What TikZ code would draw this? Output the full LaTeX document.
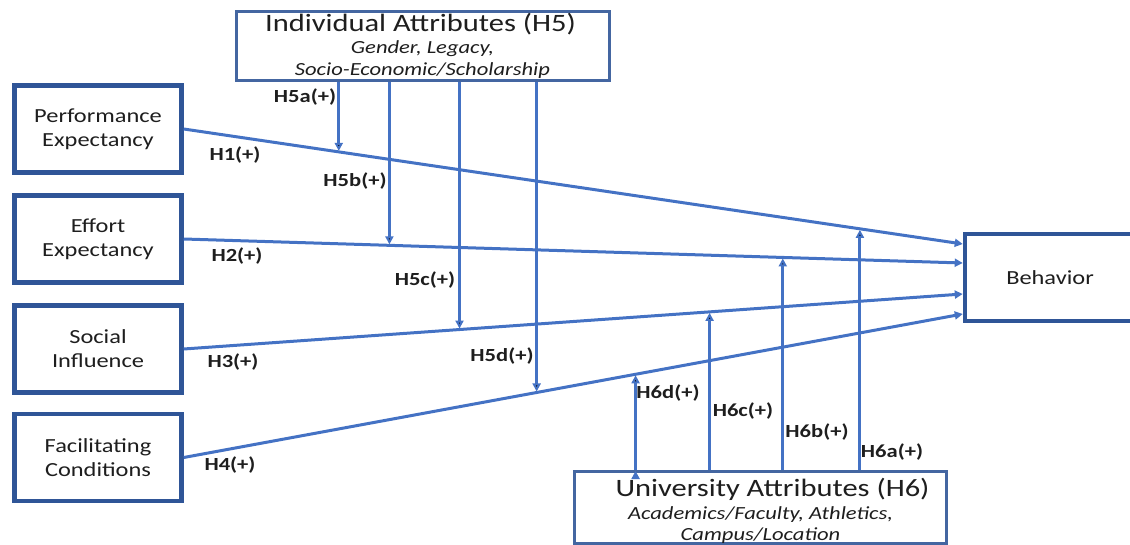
\documentclass[tikz,border=0pt]{standalone}
\usepackage{fontspec}
\setmainfont{Carlito}[FakeStretch=1.22]
\usetikzlibrary{arrows.meta}

\definecolor{boxblue}{RGB}{47,85,151}
\definecolor{lineblue}{RGB}{68,114,196}
\definecolor{txtgray}{RGB}{30,30,30}

\tikzset{
  construct/.style={draw=boxblue, line width=4.5pt, fill=white, minimum width=167pt,
    minimum height=87pt, align=center, text=txtgray, font=\fontsize{20}{24}\selectfont},
  attrbox/.style={draw=boxblue!90!white, line width=3pt, fill=white, align=center,
    text=txtgray, font=\fontsize{18.5}{22}\selectfont, inner sep=0pt},
  hyp/.style={text=txtgray, font=\bfseries\fontsize{18.5}{20}\selectfont},
  hline/.style={draw=lineblue, line width=3pt},
}

\begin{document}
\begin{tikzpicture}[x=1pt,y=1pt,>={Triangle[length=8pt,width=8pt]}]
\useasboundingbox (0,0) rectangle (1130,-545);

\node[construct] (pe) at (98,-129) {Performance\\Expectancy};
\node[construct] (ee) at (98,-239) {Effort\\Expectancy};
\node[construct] (si) at (98,-349) {Social\\Influence};
\node[construct] (fc) at (98,-457.5) {Facilitating\\Conditions};
\node[construct, minimum width=170pt] (beh) at (1050,-277.5) {Behavior};
\node[attrbox, minimum width=373pt, minimum height=69pt] (ia) at (422.5,-46)
  {\hspace*{-4pt}{\fontsize{25}{24}\selectfont Individual Attributes (H5)}\\[0pt]
   \textit{Gender, Legacy,}\\ \textit{Socio-Economic/Scholarship}};
\node[attrbox, minimum width=372pt, minimum height=68pt] (ua) at (760.5,-507.5)
  {\rule{0pt}{25pt}\hspace*{24pt}{\fontsize{25}{24}\selectfont University Attributes (H6)}\\[1pt]
   \textit{Academics/Faculty, Athletics,}\\[-1pt] \textit{Campus/Location}};

\coordinate (b1) at ([yshift=33.5pt]beh.west);
\coordinate (b2) at ([yshift=14.5pt]beh.west);
\coordinate (b3) at ([yshift=-16.5pt]beh.west);
\coordinate (b4) at ([yshift=-36.5pt]beh.west);

% main paths
\draw[hline,->] (pe.east) -- coordinate[pos=0.199] (h5a) coordinate[pos=0.868] (h6a) (b1);
\draw[hline,->] (ee.east) -- coordinate[pos=0.264] (h5b) coordinate[pos=0.769] (h6b) (b2);
\draw[hline,->] (si.east) -- coordinate[pos=0.354] (h5c) coordinate[pos=0.675] (h6c) (b3);
\draw[hline,->] (fc.east) -- coordinate[pos=0.453] (h5d) coordinate[pos=0.580] (h6d) (b4);

% moderators
\path[hline,->,shorten >=1pt]
(ia.south -| h5a) edge (h5a)
(ia.south -| h5b) edge (h5b)
(ia.south -| h5c) edge (h5c)
(ia.south -| h5d) edge (h5d)
(ua.north -| h6a) edge (h6a)
(ua.north -| h6b) edge (h6b)
(ua.north -| h6c) edge (h6c)
(ua.north -| h6d) edge (h6d)
;

\node[hyp] (l1) at (235,-155) {H1(+)};
\node[hyp] (l2) at (237,-256) {H2(+)};
\node[hyp] (l3) at (233,-362) {H3(+)};
\node[hyp] (l4) at (230,-465) {H4(+)};
\node[hyp] (l5a) at (305,-97) {H5a(+)};
\node[hyp] (l5b) at (355,-181) {H5b(+)};
\node[hyp] (l5c) at (425,-280) {H5c(+)};
\node[hyp] (l5d) at (502,-356) {H5d(+)};
\node[hyp] (l6d) at (668,-393) {H6d(+)};
\node[hyp] (l6c) at (743,-411) {H6c(+)};
\node[hyp] (l6b) at (817,-432) {H6b(+)};
\node[hyp] (l6a) at (892,-452) {H6a(+)};
\end{tikzpicture}
\end{document}
